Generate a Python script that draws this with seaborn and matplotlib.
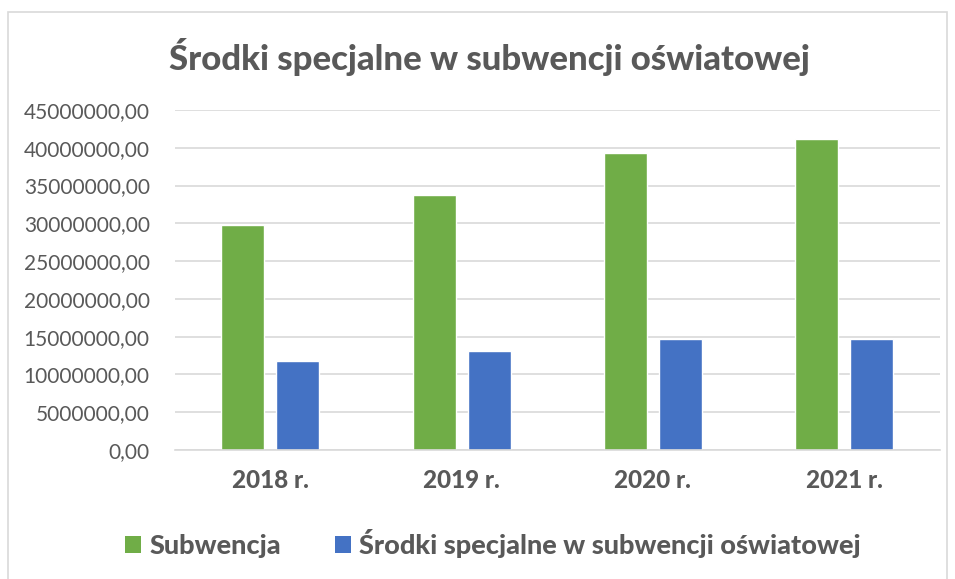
import matplotlib
matplotlib.use("Agg")
import matplotlib.pyplot as plt
import seaborn as sns
import pandas as pd
from matplotlib.ticker import FuncFormatter, MultipleLocator
from matplotlib.patches import Rectangle, Patch

years = ["2018 r.", "2019 r.", "2020 r.", "2021 r."]
subwencja = [29820000, 33750000, 39260000, 41160000]
srodki = [11820000, 13140000, 14650000, 14730000]
series_names = ["Subwencja", "Środki specjalne w subwencji oświatowej"]
colors = ["#70AD47", "#4472C4"]

df = pd.DataFrame({
    "rok": years * 2,
    "wartosc": subwencja + srodki,
    "seria": [series_names[0]] * 4 + [series_names[1]] * 4,
})

sns.set_style("white")
plt.rcParams['font.family'] = ['Lato', 'DejaVu Sans']
text_color = "#595959"

fig = plt.figure(figsize=(9.55, 5.79), dpi=100)
ax = fig.add_axes([0.183, 0.2228, 0.801, 0.5872])

sns.barplot(data=df, x="rok", y="wartosc", hue="seria", palette=colors,
            width=0.576, gap=0.219, ax=ax, legend=False, saturation=1)

ax.set_ylim(0, 45000000)
ax.yaxis.set_major_locator(MultipleLocator(5000000))
ax.yaxis.set_major_formatter(FuncFormatter(lambda v, p: f"{int(round(v))},00"))
ax.set_xlim(-0.5, 3.5)
ax.grid(axis="y", color="#D9D9D9", linewidth=1.2)
ax.set_axisbelow(True)
for s in ["top", "right", "left"]:
    ax.spines[s].set_visible(False)
ax.spines["bottom"].set_color("#D9D9D9")
ax.spines["bottom"].set_linewidth(1.2)
ax.set_xlabel("")
ax.set_ylabel("")
ax.tick_params(axis="both", length=0)
ax.tick_params(axis="y", labelsize=15, labelcolor=text_color, pad=18)
ax.tick_params(axis="x", labelsize=17.5, labelcolor=text_color, pad=14)
for lbl in ax.get_xticklabels():
    lbl.set_fontweight(900)

fig.text(0.513, 0.902, "Środki specjalne w subwencji oświatowej", ha="center", va="center",
         fontsize=25, fontweight=900, color=text_color)

handles = [Patch(facecolor=c, edgecolor="none") for c in colors]
leg = fig.legend(handles, series_names, loc="center", bbox_to_anchor=(0.516, 0.061), ncol=2,
                 frameon=False, handlelength=0.6, handleheight=0.6, handletextpad=0.3,
                 columnspacing=2.0, prop={"size": 19.5, "weight": 900})
for t in leg.get_texts():
    t.set_color(text_color)

fig.patches.append(Rectangle((8 / 955, -0.01), 939 / 955, 1 - 12 / 579 + 0.01,
                             transform=fig.transFigure, fill=False,
                             edgecolor="#D9D9D9", linewidth=1.2))

fig.savefig("out.png", dpi=100)
